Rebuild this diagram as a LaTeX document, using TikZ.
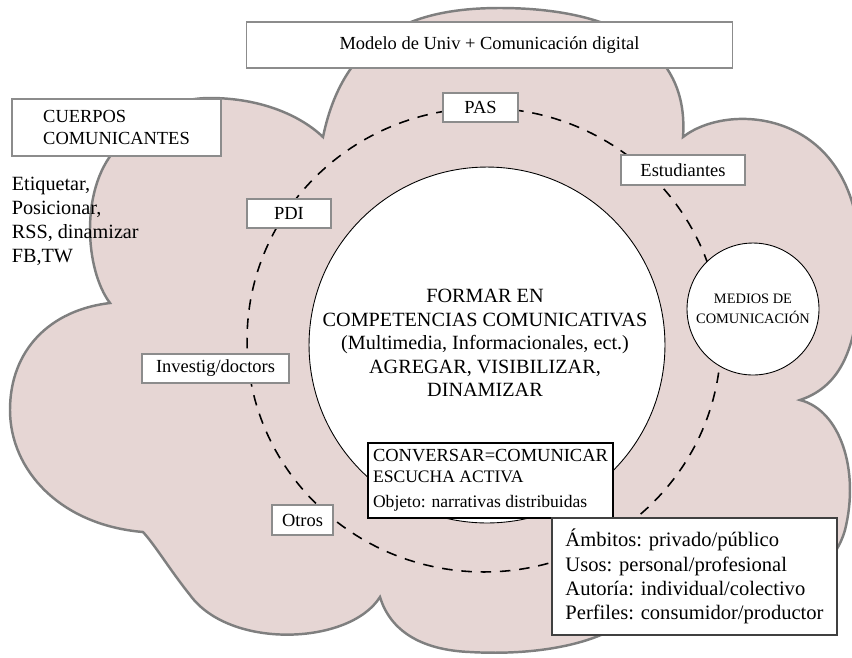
\documentclass[tikz,border=0pt]{standalone}
\usepackage{fontspec}
\setmainfont{Liberation Serif}
\usetikzlibrary{positioning}
\definecolor{cloudfill}{HTML}{E6D6D4}
\definecolor{cloudline}{HTML}{7F7F7F}
\definecolor{boxline}{HTML}{8C8C8C}

\begin{document}
\begin{tikzpicture}[x=0.02cm,y=-0.02cm,
    cloud/.style={fill=cloudfill,draw=cloudline,line width=1.4pt},
    ring/.style={dash pattern=on 6pt off 5pt,line width=0.9pt},
    disc/.style={circle,draw,fill=white,line width=0.5pt,inner sep=0pt},
    frame/.style={draw=boxline,fill=white,line width=0.6pt,inner sep=0pt},
    tag/.style={frame,font=\fontsize{10.5}{12}\selectfont},
    every node/.style={scale=1}]
		\def\ts{\fontsize{10.5}{12}\selectfont}
		\useasboundingbox (0,0) rectangle (852,657);
		% cloud
		\path[cloud] (110,303)
		  .. controls (85,270) and (80,190) .. (115,150)
		  .. controls (140,118) and (170,98) .. (210,98)
		  .. controls (260,98) and (300,115) .. (323,137)
		  .. controls (345,30) and (420,8) .. (500,8)
		  .. controls (600,8) and (690,40) .. (683,137)
		  .. controls (730,100) and (860,110) .. (860,260)
		  .. controls (860,340) and (845,385) .. (800,400)
		  .. controls (840,410) and (860,470) .. (845,530)
		  .. controls (825,600) and (720,620) .. (640,610)
		  .. controls (600,650) and (520,655) .. (470,652)
		  .. controls (420,650) and (390,630) .. (380,597)
		  .. controls (350,645) and (230,650) .. (190,595)
		  .. controls (170,570) and (155,545) .. (143,532)
		  .. controls (60,525) and (10,470) .. (10,410)
		  .. controls (10,350) and (50,310) .. cycle;
		% dashed ring and circles
		\draw[ring] (484,340) ellipse [x radius=4.74cm, y radius=4.64cm];
		\node[disc, minimum size=7.12cm] (core) at (487,345) {};
		\node[disc, minimum size=2.64cm, align=center, font=\fontsize{8.2}{11.2}\selectfont] (media) at (753,309) {MEDIOS DE\\COMUNICACIÓN};
		\node[align=center, font=\fontsize{11.5}{13.3}\selectfont] (aims) at (485,343) {FORMAR EN\\COMPETENCIAS COMUNICATIVAS\\(Multimedia, Informacionales, ect.)\\AGREGAR, VISIBILIZAR,\\DINAMIZAR};
		% boxes
		\node[frame, minimum width=9.74cm, minimum height=0.92cm, font=\ts] (model) at (489.5,45) {Modelo de Univ + Comunicación digital};
		\node[frame, minimum width=4.18cm, minimum height=1.14cm, align=left, font=\ts] (bodies) at (116.5,127.5) {CUERPOS\\COMUNICANTES};
		\node[below=0.41cm of bodies.south west, anchor=north west, align=left, inner sep=0pt, font=\fontsize{11.5}{13.6}\selectfont] (actions) {Etiquetar,\\Posicionar,\\RSS, dinamizar\\FB,TW};
		\node[frame, draw=black, line width=0.8pt, minimum width=4.9cm, minimum height=1.5cm, align=left] (talk) at (490.5,480.5) {\fontsize{10.5}{11.5}\selectfont CONVERSAR=COMUNICAR\\ESCUCHA ACTIVA\\[2pt]\fontsize{10}{11.5}\selectfont Objeto: narrativas distribuidas};
		\node[frame, draw=black!75, line width=0.7pt, minimum width=5.7cm, minimum height=2.34cm, align=left, font=\fontsize{11.7}{13.8}\selectfont] (realms) at (694.5,576.5) {Ámbitos: privado/público\\Usos: personal/profesional\\Autoría: individual/colectivo\\Perfiles: consumidor/productor};
		% labels on the ring
		\node[tag, minimum width=1.5cm, minimum height=0.58cm] (pas) at (480.5,107.5) {PAS};
		\node[tag, minimum width=2.48cm, minimum height=0.6cm] (students) at (683,170) {Estudiantes};
		\node[tag, minimum width=1.68cm, minimum height=0.58cm] (pdi) at (289,213.5) {PDI};
		\node[tag, minimum width=2.94cm, minimum height=0.58cm] (research) at (215.5,368.5) {Investig/doctors};
		\node[tag, minimum width=1.22cm, minimum height=0.6cm] (others) at (302.5,520) {Otros};
\end{tikzpicture}
\end{document}
